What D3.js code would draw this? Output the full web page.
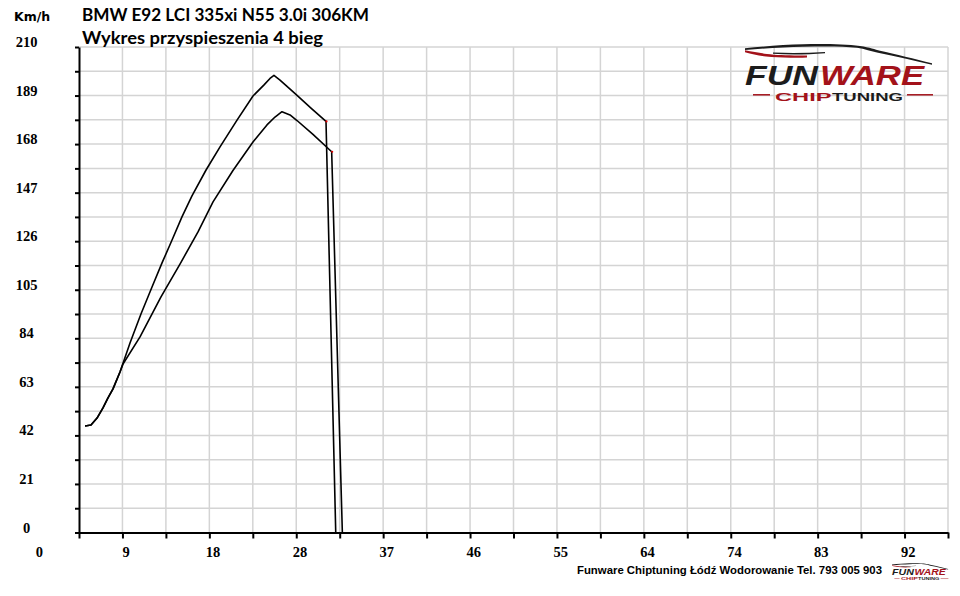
<!DOCTYPE html>
<html>
<head>
<meta charset="utf-8">
<script src="https://cdn.jsdelivr.net/npm/d3@7"></script>
<style>
  html, body { margin: 0; padding: 0; background: #fff; }
  svg { display: block; }
  .grid line { stroke: #d4d4d4; stroke-width: 1.5; }
  .axis path, .axis line { stroke: #000; stroke-width: 2; }
  .tick-label { font-family: "Liberation Serif", serif; font-weight: bold; font-size: 14.5px; fill: #000; }
  .run { fill: none; stroke: #000; stroke-width: 1.6; stroke-linejoin: round; }
</style>
</head>
<body>
<div id="chart"></div>
<script>
// x axis labels (time) and y axis labels (km/h)
const xTicks = [0, 9.2, 18.4, 27.6, 36.8, 46, 55.2, 64.4, 73.6, 82.8, 92];
const xTickLabels = ["0", "9", "18", "28", "37", "46", "55", "64", "74", "83", "92"];
const yTicks = [0, 21, 42, 63, 84, 105, 126, 147, 168, 189, 210];

// upper run (higher peak)
const runATime  = [5.24, 5.87, 6.51, 7.14, 7.67, 8.20, 8.94, 10.00, 11.16, 12.33, 13.39, 14.45, 15.50, 16.56, 18.05, 19.53, 21.33, 23.02, 24.19, 24.82, 25.24, 25.88, 27.57, 29.16, 30.75, 31.78];
const runASpeed = [46.1, 46.5, 49.5, 53.9, 58.2, 62.1, 69.4, 82.0, 94.5, 106.2, 116.6, 126.5, 136.5, 145.6, 156.8, 166.8, 178.4, 188.8, 193.6, 196.4, 197.7, 195.7, 189.5, 183.6, 177.8, 0];

// lower run
const runBTime  = [5.24, 5.87, 6.51, 7.14, 7.67, 8.20, 8.94, 9.26, 11.06, 13.28, 15.29, 17.20, 18.79, 20.90, 23.02, 24.50, 25.35, 26.09, 26.94, 27.68, 29.37, 31.35, 32.48];
const runBSpeed = [46.1, 46.5, 49.5, 53.9, 58.2, 62.1, 69.4, 72.9, 84.6, 101.9, 116.1, 130.0, 143.0, 156.6, 168.9, 176.3, 179.7, 182.0, 180.6, 178.2, 172.2, 164.7, 0];

const titleLine1 = "BMW E92 LCI 335xi N55 3.0i 306KM";
const titleLine2 = "Wykres przyspieszenia 4 bieg";
const footerText = "Funware Chiptuning Łódź Wodorowanie Tel. 793 005 903";

const W = 960, H = 596;
const m = { top: 47, right: 12, bottom: 63.5, left: 79 };
const w = W - m.left - m.right;
const h = H - m.top - m.bottom;

const svg = d3.select("#chart").append("svg")
  .attr("width", W)
  .attr("height", H);

const g = svg.append("g")
  .attr("transform", `translate(${m.left},${m.top})`);

const x = d3.scaleLinear().domain([4.6, 96.6]).range([0, w]);
const y = d3.scaleLinear().domain([0, 210]).range([h, 0]);

// grid: one line every half label step
const gridX = d3.range(0, 21).map(i => 4.6 + i * 4.6);
const gridY = d3.range(0, 21).map(i => i * 10.5);

g.append("g").attr("class", "grid")
  .selectAll("line").data(gridX.slice(1)).enter().append("line")
  .attr("x1", d => x(d)).attr("x2", d => x(d))
  .attr("y1", 0).attr("y2", h);

g.append("g").attr("class", "grid")
  .selectAll("line").data(gridY.slice(1)).enter().append("line")
  .attr("x1", 0).attr("x2", w)
  .attr("y1", d => y(d)).attr("y2", d => y(d));

// axes (ticks only, labels drawn separately)
g.append("g")
  .attr("class", "axis")
  .attr("transform", `translate(0,${h})`)
  .call(d3.axisBottom(x).tickValues(gridX).tickSize(6).tickSizeOuter(0).tickFormat(""));

g.append("g")
  .attr("class", "axis")
  .call(d3.axisLeft(y).tickValues(gridY).tickSize(4).tickSizeOuter(0).tickFormat(""));

// tick labels
svg.append("g").selectAll("text")
  .data(yTicks).enter().append("text")
  .attr("class", "tick-label")
  .attr("x", 26.5)
  .attr("y", d => m.top + y(d))
  .attr("text-anchor", "middle")
  .text(d => d);

svg.append("g").selectAll("text")
  .data(xTicks).enter().append("text")
  .attr("class", "tick-label")
  .attr("x", d => m.left + x(d) + 3.7)
  .attr("y", 557)
  .attr("text-anchor", "middle")
  .text((d, i) => xTickLabels[i]);

// runs
const line = d3.line()
  .x(d => x(d[0]))
  .y(d => y(d[1]));

const runA = d3.zip(runATime, runASpeed);
const runB = d3.zip(runBTime, runBSpeed);

[runA, runB].forEach(run => {
  g.append("path").datum(run).attr("class", "run").attr("d", line);
  // small red marker where the run is cut
  const p = run[run.length - 2];
  g.append("circle")
    .attr("cx", x(p[0]) + 0.5).attr("cy", y(p[1]))
    .attr("r", 1.1).attr("fill", "#e00000");
});

// titles
svg.append("text")
  .attr("x", 14).attr("y", 21)
  .style("font-family", "DejaVu Sans").style("font-weight", "bold").style("font-size", "12.5px")
  .text("Km/h");

svg.append("text")
  .attr("x", 82).attr("y", 21)
  .attr("textLength", 287).attr("lengthAdjust", "spacingAndGlyphs")
  .style("font-family", "Lato").style("font-weight", "bold").style("font-size", "16.5px")
  .text(titleLine1);

svg.append("text")
  .attr("x", 82).attr("y", 44)
  .attr("textLength", 241).attr("lengthAdjust", "spacingAndGlyphs")
  .style("font-family", "Lato").style("font-weight", "bold").style("font-size", "16.5px")
  .text(titleLine2);

// footer
svg.append("text")
  .attr("x", 577).attr("y", 574)
  .attr("textLength", 305).attr("lengthAdjust", "spacingAndGlyphs")
  .style("font-family", "Liberation Sans").style("font-weight", "bold").style("font-size", "10.5px")
  .text(footerText);

// logo, drawn in a 188 x 58 box
function drawLogo(sel) {
  const red = "#a3121a", dark = "#1c1c1c";
  // car silhouette
  sel.append("path")
    .attr("d", "M0,5.3 C20,3.2 40,1.6 58,1.2 C78,0.8 100,1 115,3 C125,4.5 130,6.5 135,7.7 C150,11 170,16 187,20.3 L187,21.8 C170,17.8 150,13.3 133,9.8 C126,8.3 120,6 112,4.8 C98,3.2 78,3.4 58,3.8 C40,4.2 20,5.4 0,7 Z")
    .attr("fill", dark);
  sel.append("path")
    .attr("d", "M0,7.2 C8,8.6 15,10 22,11 C32,12.2 45,12.6 62,12.4 L62,14.4 C45,15 32,14.8 21,13.6 C13,12.6 7,11 0,9.2 Z")
    .attr("fill", red);
  sel.append("path")
    .attr("d", "M28,9.6 C45,10.4 62,10.2 80,9 L80,10.2 C62,11.6 45,11.8 28,10.8 Z")
    .attr("fill", dark);

  const word = (txt, x0, y0, len, size, fill, italic) => sel.append("text")
    .attr("x", x0).attr("y", y0)
    .attr("textLength", len).attr("lengthAdjust", "spacingAndGlyphs")
    .attr("fill", fill)
    .style("font-family", "Liberation Sans").style("font-weight", "bold")
    .style("font-style", italic ? "italic" : "normal")
    .style("font-size", size + "px")
    .text(txt);

  word("FUN", 0, 41.5, 73, 27.5, dark, true);
  word("WARE", 75, 41.5, 104, 27.5, red, true);
  word("CHIP", 30, 57.6, 56.5, 11.5, red, false);
  word("TUNING", 87, 57.6, 71, 11.5, dark, false);

  sel.append("line").attr("x1", 8).attr("x2", 25).attr("y1", 51.8).attr("y2", 51.8)
    .attr("stroke", red).attr("stroke-width", 1.5);
  sel.append("line").attr("x1", 162).attr("x2", 188).attr("y1", 51.8).attr("y2", 51.8)
    .attr("stroke", red).attr("stroke-width", 1.5);
}

drawLogo(svg.append("g").attr("transform", "translate(745,43)"));
drawLogo(svg.append("g").attr("transform", "translate(892,563) scale(0.3)"));
</script>
</body>
</html>
